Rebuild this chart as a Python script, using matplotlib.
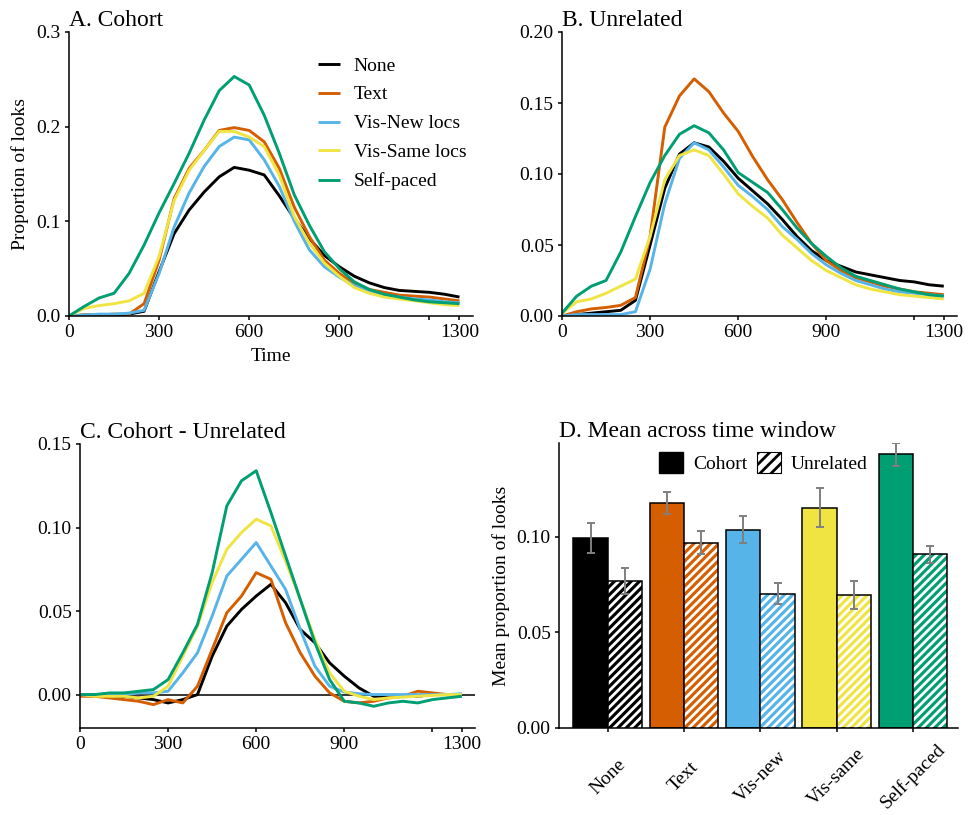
import matplotlib
matplotlib.use("Agg")
from matplotlib import pyplot as plt
from matplotlib.patches import Patch
import numpy as np

plt.rcParams["font.family"] = "Liberation Serif"
plt.rcParams["hatch.linewidth"] = 2.0

W, H = 968, 815

TIME = list(range(0, 1301, 50))
CONDITIONS = ["None", "Text", "Vis-New locs", "Vis-Same locs", "Self-paced"]
COLORS = ["#000000", "#D55E00", "#56B4E9", "#F0E442", "#009E73"]

# A. cohort looks over time
cohort_none = [0.0, 0.001, 0.001, 0.001, 0.002, 0.005, 0.047, 0.087, 0.112, 0.131, 0.147, 0.157, 0.154,
               0.149, 0.127, 0.103, 0.082, 0.064, 0.052, 0.042, 0.035, 0.030, 0.027, 0.026, 0.025, 0.023, 0.020]
cohort_text = [0.0, 0.001, 0.001, 0.002, 0.002, 0.013, 0.059, 0.124, 0.156, 0.175, 0.196, 0.199, 0.196,
               0.184, 0.156, 0.115, 0.084, 0.059, 0.045, 0.034, 0.028, 0.025, 0.022, 0.021, 0.020, 0.018, 0.016]
cohort_visnew = [0.0, 0.001, 0.002, 0.002, 0.003, 0.006, 0.045, 0.094, 0.130, 0.158, 0.179, 0.189, 0.186,
                 0.165, 0.137, 0.100, 0.070, 0.052, 0.041, 0.032, 0.026, 0.022, 0.020, 0.018, 0.017, 0.015, 0.014]
cohort_vissame = [0.0, 0.008, 0.011, 0.013, 0.016, 0.024, 0.063, 0.122, 0.154, 0.175, 0.195, 0.195, 0.189,
                  0.179, 0.149, 0.105, 0.077, 0.056, 0.042, 0.030, 0.024, 0.020, 0.018, 0.016, 0.014, 0.012, 0.011]
cohort_self = [0.0, 0.010, 0.019, 0.024, 0.045, 0.075, 0.109, 0.140, 0.172, 0.207, 0.238, 0.253, 0.244,
               0.212, 0.172, 0.128, 0.096, 0.068, 0.050, 0.036, 0.028, 0.023, 0.020, 0.017, 0.015, 0.014, 0.013]

# B. unrelated looks over time
unrel_none = [0.0, 0.001, 0.002, 0.003, 0.004, 0.011, 0.050, 0.090, 0.114, 0.122, 0.119, 0.109, 0.097,
              0.088, 0.079, 0.068, 0.056, 0.046, 0.039, 0.035, 0.031, 0.029, 0.027, 0.025, 0.024, 0.022, 0.021]
unrel_text = [0.0, 0.003, 0.005, 0.006, 0.0075, 0.013, 0.056, 0.133, 0.155, 0.167, 0.158, 0.143, 0.130,
              0.112, 0.096, 0.082, 0.066, 0.051, 0.039, 0.032, 0.027, 0.024, 0.021, 0.019, 0.017, 0.016, 0.015]
unrel_visnew = [0.0, 0.001, 0.001, 0.001, 0.001, 0.003, 0.033, 0.079, 0.111, 0.122, 0.117, 0.105, 0.092,
                0.084, 0.075, 0.063, 0.054, 0.044, 0.036, 0.030, 0.025, 0.022, 0.019, 0.017, 0.016, 0.015, 0.014]
unrel_vissame = [0.002, 0.010, 0.012, 0.016, 0.021, 0.026, 0.056, 0.096, 0.113, 0.117, 0.113, 0.100, 0.086,
                 0.077, 0.069, 0.057, 0.048, 0.039, 0.032, 0.027, 0.022, 0.019, 0.017, 0.015, 0.014, 0.013, 0.012]
unrel_self = [0.002, 0.014, 0.021, 0.025, 0.045, 0.070, 0.094, 0.113, 0.128, 0.134, 0.129, 0.117, 0.101,
              0.094, 0.087, 0.075, 0.062, 0.051, 0.042, 0.034, 0.028, 0.025, 0.022, 0.019, 0.017, 0.015, 0.014]

# C. cohort minus unrelated
diff_none = [0.0, 0.0, -0.001, -0.001, -0.002, -0.003, -0.005, -0.003, 0.0, 0.023, 0.041, 0.051, 0.059,
             0.066, 0.055, 0.039, 0.031, 0.019, 0.011, 0.004, -0.001, -0.001, -0.001, -0.001, 0.0, 0.0, 0.0]
diff_text = [-0.001, -0.001, -0.002, -0.003, -0.004, -0.006, -0.003, -0.005, 0.005, 0.027, 0.049, 0.059, 0.073,
             0.069, 0.043, 0.025, 0.011, 0.001, -0.004, -0.005, -0.004, -0.002, -0.001, 0.002, 0.001, 0.0, -0.0005]
diff_visnew = [0.0, 0.0, 0.0, 0.0, 0.001, 0.001, 0.002, 0.013, 0.025, 0.047, 0.071, 0.081, 0.091,
               0.077, 0.063, 0.039, 0.017, 0.005, 0.0015, 0.0005, 0.0, 0.0, 0.0, 0.0, 0.0, 0.0, 0.0005]
diff_vissame = [0.0, -0.001, -0.001, -0.001, -0.002, -0.001, 0.005, 0.023, 0.041, 0.067, 0.087, 0.097, 0.105,
                0.101, 0.080, 0.057, 0.033, 0.013, 0.002, -0.001, -0.003, -0.002, -0.0015, -0.001, -0.0005, 0.0, 0.0]
diff_self = [0.0, 0.0, 0.001, 0.001, 0.002, 0.003, 0.009, 0.025, 0.042, 0.073, 0.113, 0.128, 0.134,
             0.109, 0.083, 0.057, 0.031, 0.009, -0.004, -0.005, -0.007, -0.005, -0.004, -0.005, -0.003, -0.002, -0.001]

# D. means across the window
BAR_LABELS = ["None", "Text", "Vis-new", "Vis-same", "Self-paced"]
cohort_mean = [0.0995, 0.1178, 0.1037, 0.1152, 0.1431]
cohort_se = [0.0078, 0.0058, 0.0072, 0.0103, 0.0061]
unrel_mean = [0.0771, 0.0969, 0.0702, 0.0695, 0.0908]
unrel_se = [0.0068, 0.0059, 0.0056, 0.0072, 0.0044]

TIME_TICKS = [0, 300, 600, 900, 1200, 1300]
TIME_TICKLABELS = ["0", "300", "600", "900", "", "1300"]


def px_axes(fig, left, top, right, bottom):
    return fig.add_axes([left / W, 1 - bottom / H, (right - left) / W, (bottom - top) / H])


def style_axes(ax, title, title_pad=4):
    for side in ["top", "right"]:
        ax.spines[side].set_visible(False)
    for side in ["left", "bottom"]:
        ax.spines[side].set_linewidth(1.1)
    ax.tick_params(labelsize=14, width=1.1, length=3, color="black", pad=3)
    ax.set_title(title, loc="left", fontsize=17, pad=title_pad)


def time_panel(ax, series, title, ylim, yticks, yfmt):
    for vals, col, lab in zip(series, COLORS, CONDITIONS):
        ax.plot(TIME, vals, color=col, lw=2.1, label=lab, solid_capstyle="butt")
    ax.set_xlim(0, 1345)
    ax.set_ylim(*ylim)
    ax.set_xticks(TIME_TICKS)
    ax.set_xticklabels(TIME_TICKLABELS)
    ax.set_yticks(yticks)
    ax.set_yticklabels([yfmt.format(v) for v in yticks])
    style_axes(ax, title)


fig = plt.figure(figsize=(W / 100, H / 100), dpi=100)

# A
axA = px_axes(fig, 69, 32, 473, 316)
time_panel(axA, [cohort_none, cohort_text, cohort_visnew, cohort_vissame, cohort_self],
           "A. Cohort", (0, 0.3), [0, 0.1, 0.2, 0.3], "{:.1f}")
axA.set_xlabel("Time", fontsize=14, labelpad=5)
axA.set_ylabel("Proportion of looks", fontsize=14, labelpad=5)
axA.legend(loc="upper left", bbox_to_anchor=(0.616, 0.912), frameon=False, fontsize=14,
           handlelength=1.15, handletextpad=0.7, labelspacing=0.58, borderpad=0, borderaxespad=0)

# B
axB = px_axes(fig, 562, 32, 957, 316)
time_panel(axB, [unrel_none, unrel_text, unrel_visnew, unrel_vissame, unrel_self],
           "B. Unrelated", (0, 0.2), [0, 0.05, 0.10, 0.15, 0.20], "{:.2f}")

# C
axC = px_axes(fig, 80, 444, 475, 728)
axC.axhline(0, color="black", lw=1.1, zorder=1)
time_panel(axC, [diff_none, diff_text, diff_visnew, diff_vissame, diff_self],
           "C. Cohort - Unrelated", (-0.02, 0.15), [0, 0.05, 0.10, 0.15], "{:.2f}")

# D
axD = px_axes(fig, 559, 443, 958, 728)
x = np.arange(len(BAR_LABELS))
bw = 0.45
axD.bar(x - bw / 2, cohort_mean, bw, color=COLORS, edgecolor="black", linewidth=1.1, zorder=2)
axD.bar(x + bw / 2, unrel_mean, bw, color=COLORS, edgecolor="none", linewidth=0, zorder=2)
axD.bar(x + bw / 2, unrel_mean, bw, facecolor="none", edgecolor="white", hatch="////", linewidth=0, zorder=3)
axD.bar(x + bw / 2, unrel_mean, bw, facecolor="none", edgecolor="black", linewidth=1.1, zorder=4)
axD.errorbar(x - bw / 2, cohort_mean, yerr=cohort_se, fmt="none", ecolor="#7f7f7f",
             elinewidth=1.4, capsize=3, capthick=1.4, zorder=5)
axD.errorbar(x + bw / 2, unrel_mean, yerr=unrel_se, fmt="none", ecolor="#7f7f7f",
             elinewidth=1.4, capsize=3, capthick=1.4, zorder=5)
axD.set_xlim(-0.64, 4.59)
axD.set_ylim(0, 0.149)
axD.set_yticks([0, 0.05, 0.10])
axD.set_yticklabels(["0.00", "0.05", "0.10"])
axD.set_xticks(x)
axD.set_xticklabels(BAR_LABELS)
style_axes(axD, "D. Mean across time window")
axD.tick_params(axis="x", pad=32)
for lab in axD.get_xticklabels():
    lab.set_rotation(45)
    lab.set_ha("center")
    lab.set_va("center")
axD.set_ylabel("Mean proportion of looks", fontsize=14, labelpad=5)

legend_handles = [
    Patch(facecolor="black", edgecolor="black", linewidth=1.0),
    Patch(facecolor="white", edgecolor="black", hatch="///", linewidth=0.8),
]
axD.legend(legend_handles, ["Cohort", "Unrelated"], loc="upper left", bbox_to_anchor=(0.2506, 0.968),
           ncol=2, frameon=False, fontsize=14, handlelength=1.25, handleheight=1.25,
           handletextpad=0.5, columnspacing=0.5, borderpad=0, borderaxespad=0)

fig.savefig("out.png", dpi=100)
